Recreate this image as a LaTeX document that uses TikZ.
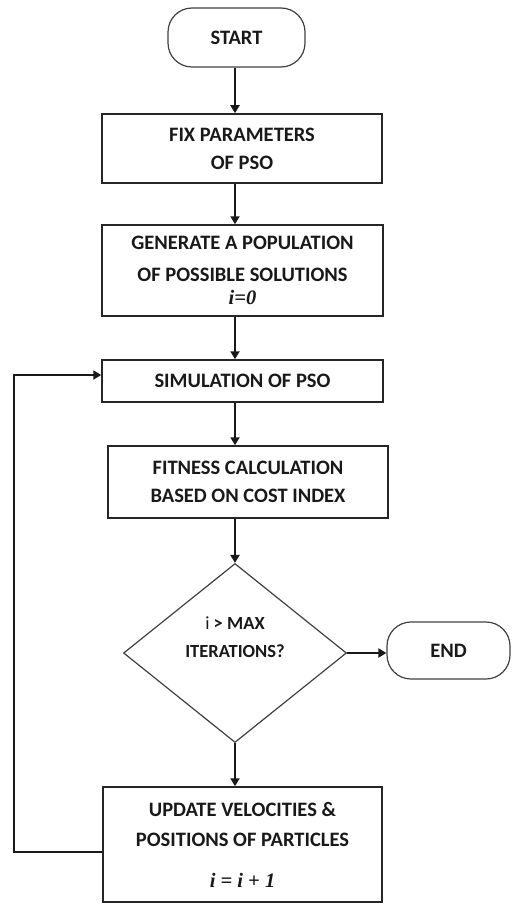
\documentclass[tikz,border=0pt]{standalone}
\usepackage{fontspec}
\setmainfont{Carlito}
\newfontfamily\eqfont{Liberation Serif}
\usetikzlibrary{shapes.geometric,arrows.meta}

\begin{document}
\begin{tikzpicture}[x=1pt,y=-1pt,
  every node/.style={font=\fontsize{20.5}{28}\selectfont\bfseries, inner sep=0pt, align=center, text=black!90},
  procbox/.style={draw=black!85, line width=1.5pt, rectangle},
  termbox/.style={draw=black!75, line width=1.2pt, rounded corners=24pt},
  decbox/.style={draw=black!75, line width=1.2pt, diamond},
  flow/.style={draw=black!90, line width=2.3pt, -{Triangle[length=8pt,width=9pt]}},
]
\useasboundingbox (0,0) rectangle (512,904);

% main column of the flowchart
\node[termbox, minimum width=137pt, minimum height=59pt] (start) at (236.5,37.5) {START};
\node[procbox, minimum width=280pt, minimum height=69pt] (fix) at (242,148.5) {FIX PARAMETERS\\OF PSO};
\node[procbox, minimum width=281pt, minimum height=91pt] (gen) at (242.5,270.5)
  {GENERATE A POPULATION\\[4pt]OF POSSIBLE SOLUTIONS\\[-5pt]{\eqfont\itshape i=0}};
\node[procbox, minimum width=281pt, minimum height=42pt] (sim) at (242.5,381) {SIMULATION OF PSO};
\node[procbox, minimum width=280pt, minimum height=72pt] (fit) at (248,482) {FITNESS CALCULATION\\BASED ON COST INDEX};
\node[decbox, minimum width=223pt, minimum height=179pt] (dec) at (235,653) {};
\node[font=\fontsize{18.5}{28}\selectfont\bfseries] (dectext) at (235,637) {{\mdseries i} > MAX\\ITERATIONS?};
\node[termbox, minimum width=123pt, minimum height=57pt] (end) at (448.5,650.5) {END};
\node[procbox, minimum width=279pt, minimum height=115pt] (upd) at (242.5,844.5)
  {UPDATE VELOCITIES \&\\[2pt]POSITIONS OF PARTICLES\\[13pt]{\eqfont\itshape i = i + 1}};

% vertical spine of the arrows
\coordinate (spine) at (235,0);
\draw[flow] (start.south -| spine) -- (fix.north -| spine);
\draw[flow] (fix.south -| spine) -- (gen.north -| spine);
\draw[flow] (gen.south -| spine) -- (sim.north -| spine);
\draw[flow] (sim.south -| spine) -- (fit.north -| spine);
\draw[flow] (fit.south -| spine) -- (dec.north);
\draw[flow] (dec.east) -- (dec.east -| end.west);
\draw[flow] (dec.south) -- (upd.north -| dec.south);

% loop back to the simulation step
\coordinate (lb) at (14,852);
\coordinate (lt) at (14,375);
\draw[flow] (lb -| upd.west) -- (lb) -- (lt) -- (lt -| sim.west);
\end{tikzpicture}
\end{document}
